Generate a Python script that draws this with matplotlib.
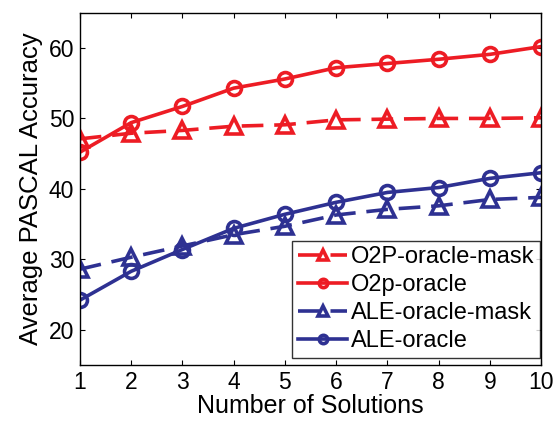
import matplotlib
matplotlib.use('Agg')
import matplotlib.pyplot as plt

x = [1, 2, 3, 4, 5, 6, 7, 8, 9, 10]
o2p_mask = [47.1, 47.9, 48.3, 48.9, 49.1, 49.8, 49.9, 50.0, 50.0, 50.1]
o2p_oracle = [45.2, 49.4, 51.7, 54.3, 55.6, 57.2, 57.8, 58.4, 59.1, 60.2]
ale_mask = [28.6, 30.3, 31.9, 33.5, 34.7, 36.3, 37.1, 37.6, 38.5, 38.8]
ale_oracle = [24.2, 28.3, 31.4, 34.4, 36.4, 38.1, 39.5, 40.2, 41.5, 42.3]

red = '#ed1c24'
blue = '#2e3192'

plt.rcParams['font.family'] = ['Liberation Sans', 'DejaVu Sans']

fig = plt.figure(figsize=(5.58, 4.25), dpi=100)
ax = fig.add_axes([0.143, 0.141, 0.827, 0.829])

ax.plot(x, o2p_mask, '--^', color=red, linewidth=2.6, markersize=11, markeredgewidth=2.6,
        markerfacecolor='none', dashes=(6, 3), label='O2P-oracle-mask')
ax.plot(x, o2p_oracle, '-o', color=red, linewidth=2.6, markersize=10, markeredgewidth=2.6,
        markerfacecolor='none', label='O2p-oracle')
ax.plot(x, ale_mask, '--^', color=blue, linewidth=2.6, markersize=11, markeredgewidth=2.6,
        markerfacecolor='none', dashes=(6, 3), label='ALE-oracle-mask')
ax.plot(x, ale_oracle, '-o', color=blue, linewidth=2.6, markersize=10, markeredgewidth=2.6,
        markerfacecolor='none', label='ALE-oracle')

ax.set_xlim(1, 10)
ax.set_ylim(15, 65)
ax.set_xticks(x)
ax.set_yticks([20, 30, 40, 50, 60])
ax.tick_params(direction='in', top=True, right=True, labelsize=16.5, length=3.5, pad=4)
ax.set_xlabel('Number of Solutions', fontsize=18, labelpad=0)
ax.set_ylabel('Average PASCAL Accuracy', fontsize=18.5, labelpad=4)
for s in ax.spines.values():
    s.set_linewidth(1.0)

leg = ax.legend(loc='lower right', fontsize=17, frameon=True, fancybox=False,
                edgecolor='black', handlelength=2.1, handletextpad=0.15,
                labelspacing=0.25, borderaxespad=0.0, borderpad=0.25,
                markerscale=0.6, bbox_to_anchor=(0.998, 0.02))
leg.get_frame().set_linewidth(1.0)

fig.savefig('out.png', dpi=100)
